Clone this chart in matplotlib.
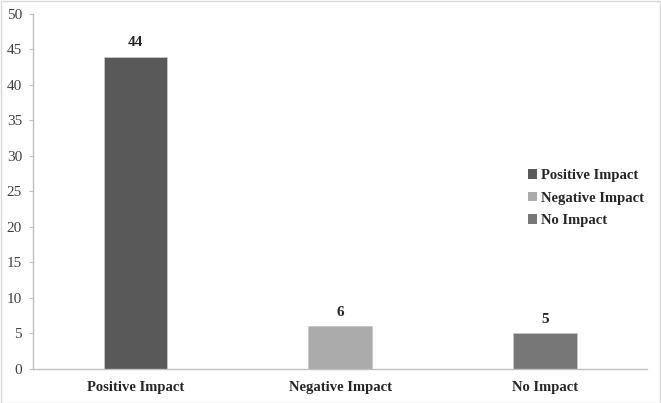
import matplotlib.pyplot as plt
from matplotlib.patches import Patch

categories = ['Positive Impact', 'Negative Impact', 'No Impact']
values = [44, 6, 5]
colors = ['#595959', '#ababab', '#777777']
yticks = [0, 5, 10, 15, 20, 25, 30, 35, 40, 45, 50]

plt.rcParams['font.family'] = 'Liberation Serif'

fig = plt.figure(figsize=(6.61, 4.03), dpi=100)
ax = fig.add_axes([0.050, 0.0844, 0.929, 0.881])

x = range(len(categories))
bars = ax.bar(x, values, width=0.31, color=colors, edgecolor='#c8c8c8', linewidth=0.6, zorder=2)

# value labels above the bars
for xi, v in zip(x, values):
    ax.text(xi, v + 1.0, str(v), ha='center', va='bottom', fontsize=11,
            fontweight='bold', color='#262626')

ax.set_xlim(-0.5, len(categories) - 0.5)
ax.set_ylim(0, 50)
ax.set_yticks(yticks)
ax.set_xticks(list(x))
ax.set_xticklabels(categories, fontsize=10.5, fontweight='bold', color='#262626')
ax.tick_params(axis='y', labelsize=11, colors='#404040', length=3, color='#bfbfbf', pad=5)
ax.tick_params(axis='x', length=0, pad=9)
for lbl in ax.get_yticklabels():
    lbl.set_color('#404040')

for s in ['top', 'right']:
    ax.spines[s].set_visible(False)
ax.spines['left'].set_color('#bfbfbf')
ax.spines['bottom'].set_color('#bfbfbf')
ax.spines['left'].set_linewidth(1.0)
ax.spines['bottom'].set_linewidth(1.0)

handles = [Patch(facecolor=c, edgecolor='none') for c in colors]
leg = ax.legend(handles, categories, loc='upper left', bbox_to_anchor=(0.785, 0.60),
                frameon=False, handlelength=0.6, handleheight=0.6, handletextpad=0.3,
                labelspacing=0.65, prop={'weight': 'bold', 'size': 10.5})
for t in leg.get_texts():
    t.set_color('#262626')

# light frame around the whole chart
fig.patches.append(plt.Rectangle((0.001, 0.001), 0.997, 0.996, transform=fig.transFigure,
                                 fill=False, edgecolor='#d9d9d9', linewidth=1.0))

fig.savefig('out.png', dpi=100)
